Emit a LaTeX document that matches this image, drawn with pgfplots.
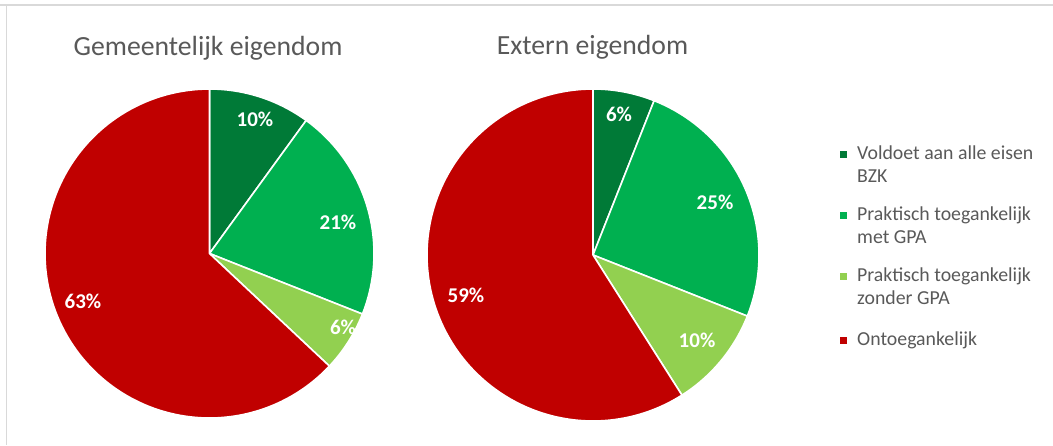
\documentclass[border=0pt]{standalone}
\usepackage{pgfplots}
\pgfplotsset{compat=1.18}
\usepackage{pgfplotstable}
\usepackage{fontspec}
\setmainfont{Carlito}
\definecolor{cDark}{RGB}{0,122,55}
\definecolor{cGreen}{RGB}{0,176,80}
\definecolor{cLight}{RGB}{146,208,80}
\definecolor{cRed}{RGB}{192,0,0}
\definecolor{cTitle}{RGB}{89,89,89}
\definecolor{cBorder}{RGB}{217,217,217}

% shares in percent
\pgfplotstableread{
cat gem ext
1 10 6
2 21 25
3 6 10
4 63 59
}\piedata

\pgfplotstablegetelem{0}{gem}\of\piedata\pgfmathsetmacro\gA{\pgfplotsretval*3.6}
\pgfplotstablegetelem{1}{gem}\of\piedata\pgfmathsetmacro\gB{\gA+\pgfplotsretval*3.6}
\pgfplotstablegetelem{2}{gem}\of\piedata\pgfmathsetmacro\gC{\gB+\pgfplotsretval*3.6}
\pgfplotstablegetelem{0}{ext}\of\piedata\pgfmathsetmacro\eA{\pgfplotsretval*3.6}
\pgfplotstablegetelem{1}{ext}\of\piedata\pgfmathsetmacro\eB{\eA+\pgfplotsretval*3.6}
\pgfplotstablegetelem{2}{ext}\of\piedata\pgfmathsetmacro\eC{\eB+\pgfplotsretval*3.6}

% #1 cx, #2 cy, #3 r, #4 start angle, #5 end angle, #6 options
\newcommand\slice[6]{%
  \addplot[draw=white, line width=1.6pt, line join=round, domain=#4:#5, samples=120, #6]
    ({#1+#3*sin(x)},{#2-#3*cos(x)}) -- (axis cs:#1,#2) -- cycle;
}

\begin{document}
\begin{tikzpicture}
\begin{axis}[
  width=1053pt, height=445pt, scale only axis,
  xmin=0, xmax=1053, ymin=0, ymax=445, y dir=reverse,
  hide axis, clip=false,
]
% Gemeentelijk eigendom
\slice{209.5}{253.5}{164.5}{0}{\gA}{fill=cDark}
\slice{209.5}{253.5}{164.5}{\gA}{\gB}{fill=cGreen}
\slice{209.5}{253.5}{164.5}{\gB}{\gC}{fill=cLight}
\slice{209.5}{253.5}{164.5}{\gC}{360}{fill=cRed}
% Extern eigendom
\slice{593}{255}{166}{0}{\eA}{fill=cDark}
\slice{593}{255}{166}{\eA}{\eB}{fill=cGreen}
\slice{593}{255}{166}{\eB}{\eC}{fill=cLight}
\slice{593}{255}{166}{\eC}{360}{fill=cRed}

% legend swatches
\addplot[only marks, mark=square*, mark size=3.2pt, color=cDark]  coordinates {(843,154)};
\addplot[only marks, mark=square*, mark size=3.2pt, color=cGreen] coordinates {(843,215)};
\addplot[only marks, mark=square*, mark size=3.2pt, color=cLight] coordinates {(843,276)};
\addplot[only marks, mark=square*, mark size=3.2pt, color=cRed]   coordinates {(843,340)};

% border of chart area
\draw[cBorder, line width=1.5pt] (axis cs:0,5) -- (axis cs:1053,5);
\draw[cBorder, line width=1.5pt] (axis cs:6.5,5) -- (axis cs:6.5,445);

% titles
\node[anchor=base, font=\fontsize{27.7}{30}\selectfont, text=cTitle] at (axis cs:208,55) {Gemeentelijk eigendom};
\node[anchor=base, font=\fontsize{27.7}{30}\selectfont, text=cTitle] at (axis cs:592.5,54.5) {Extern eigendom};

% legend texts
\tikzset{leg/.style={anchor=base west, inner sep=0pt, text=cTitle, font=\fontsize{19.8}{22}\selectfont}}
\node[leg] at (axis cs:857,159.5) {Voldoet aan alle eisen};
\node[leg] at (axis cs:857,182) {BZK};
\node[leg] at (axis cs:857,220.5) {Praktisch toegankelijk};
\node[leg] at (axis cs:857,243) {met GPA};
\node[leg] at (axis cs:857,281.5) {Praktisch toegankelijk};
\node[leg] at (axis cs:857,304) {zonder GPA};
\node[leg] at (axis cs:857,345) {Ontoegankelijk};

% data labels
\tikzset{lbl/.style={anchor=base, text=white, font=\bfseries\fontsize{21}{22}\selectfont}}
\node[lbl] at (axis cs:255,126) {10\%};
\node[lbl] at (axis cs:338,229) {21\%};
\node[lbl] at (axis cs:343,334) {6\%};
\node[lbl] at (axis cs:83,308) {63\%};
\node[lbl] at (axis cs:619,121) {6\%};
\node[lbl] at (axis cs:715,209) {25\%};
\node[lbl] at (axis cs:697,347) {10\%};
\node[lbl] at (axis cs:466,302) {59\%};
\end{axis}
\pgfresetboundingbox
\useasboundingbox (current axis.south west) rectangle (current axis.north east);
\end{tikzpicture}
\end{document}
